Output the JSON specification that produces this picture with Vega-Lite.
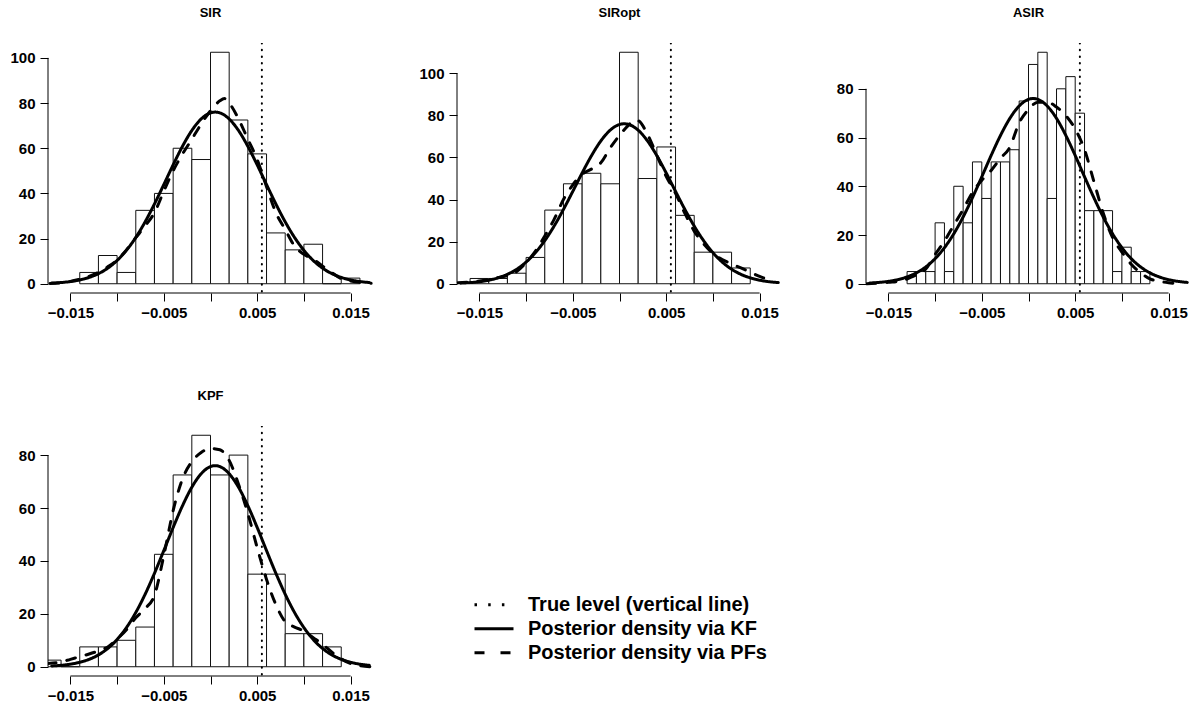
{
  "$schema": "https://vega.github.io/schema/vega-lite/v6.json",
  "background": "white",
  "padding": {"left": 9, "top": 7, "right": 5, "bottom": 5},
  "config": {
    "font": "Liberation Sans",
    "view": {"stroke": null},
    "axis": {"domain": false, "grid": false, "tickColor": "black", "tickSize": 8, "tickWidth": 1, "labelFont": "Liberation Sans", "labelFontSize": 15, "labelFontWeight": "bold", "labelColor": "black", "title": null, "labelOverlap": false},
    "axisX": {"labelPadding": 4},
    "axisY": {"labelPadding": 5},
    "title": {"font": "Liberation Sans", "fontSize": 13, "fontWeight": "bold", "color": "black", "anchor": "middle", "baseline": "alphabetic", "offset": 23}
  },
  "datasets": {
    "bars": [
      {"panel": "SIR", "x0": -0.014, "x1": -0.012, "density": 5},
      {"panel": "SIR", "x0": -0.012, "x1": -0.010, "density": 12.5},
      {"panel": "SIR", "x0": -0.010, "x1": -0.008, "density": 5},
      {"panel": "SIR", "x0": -0.008, "x1": -0.006, "density": 32.5},
      {"panel": "SIR", "x0": -0.006, "x1": -0.004, "density": 40},
      {"panel": "SIR", "x0": -0.004, "x1": -0.002, "density": 60},
      {"panel": "SIR", "x0": -0.002, "x1": 0.0, "density": 55},
      {"panel": "SIR", "x0": 0.0, "x1": 0.002, "density": 102.5},
      {"panel": "SIR", "x0": 0.002, "x1": 0.004, "density": 72.5},
      {"panel": "SIR", "x0": 0.004, "x1": 0.006, "density": 57.5},
      {"panel": "SIR", "x0": 0.006, "x1": 0.008, "density": 22.5},
      {"panel": "SIR", "x0": 0.008, "x1": 0.010, "density": 15},
      {"panel": "SIR", "x0": 0.010, "x1": 0.012, "density": 17.5},
      {"panel": "SIR", "x0": 0.012, "x1": 0.014, "density": 0},
      {"panel": "SIR", "x0": 0.014, "x1": 0.016, "density": 2.5},

      {"panel": "SIRopt", "x0": -0.016, "x1": -0.014, "density": 2.5},
      {"panel": "SIRopt", "x0": -0.014, "x1": -0.012, "density": 2.5},
      {"panel": "SIRopt", "x0": -0.012, "x1": -0.010, "density": 5},
      {"panel": "SIRopt", "x0": -0.010, "x1": -0.008, "density": 12.5},
      {"panel": "SIRopt", "x0": -0.008, "x1": -0.006, "density": 35},
      {"panel": "SIRopt", "x0": -0.006, "x1": -0.004, "density": 47.5},
      {"panel": "SIRopt", "x0": -0.004, "x1": -0.002, "density": 52.5},
      {"panel": "SIRopt", "x0": -0.002, "x1": 0.0, "density": 47.5},
      {"panel": "SIRopt", "x0": 0.0, "x1": 0.002, "density": 110},
      {"panel": "SIRopt", "x0": 0.002, "x1": 0.004, "density": 50},
      {"panel": "SIRopt", "x0": 0.004, "x1": 0.006, "density": 65},
      {"panel": "SIRopt", "x0": 0.006, "x1": 0.008, "density": 32.5},
      {"panel": "SIRopt", "x0": 0.008, "x1": 0.010, "density": 15},
      {"panel": "SIRopt", "x0": 0.010, "x1": 0.012, "density": 15},
      {"panel": "SIRopt", "x0": 0.012, "x1": 0.014, "density": 7.5},

      {"panel": "ASIR", "x0": -0.013, "x1": -0.012, "density": 5},
      {"panel": "ASIR", "x0": -0.012, "x1": -0.011, "density": 5},
      {"panel": "ASIR", "x0": -0.011, "x1": -0.010, "density": 5},
      {"panel": "ASIR", "x0": -0.010, "x1": -0.009, "density": 25},
      {"panel": "ASIR", "x0": -0.009, "x1": -0.008, "density": 5},
      {"panel": "ASIR", "x0": -0.008, "x1": -0.007, "density": 40},
      {"panel": "ASIR", "x0": -0.007, "x1": -0.006, "density": 25},
      {"panel": "ASIR", "x0": -0.006, "x1": -0.005, "density": 50},
      {"panel": "ASIR", "x0": -0.005, "x1": -0.004, "density": 35},
      {"panel": "ASIR", "x0": -0.004, "x1": -0.003, "density": 50},
      {"panel": "ASIR", "x0": -0.003, "x1": -0.002, "density": 50},
      {"panel": "ASIR", "x0": -0.002, "x1": -0.001, "density": 55},
      {"panel": "ASIR", "x0": -0.001, "x1": 0.0, "density": 75},
      {"panel": "ASIR", "x0": 0.0, "x1": 0.001, "density": 90},
      {"panel": "ASIR", "x0": 0.001, "x1": 0.002, "density": 95},
      {"panel": "ASIR", "x0": 0.002, "x1": 0.003, "density": 35},
      {"panel": "ASIR", "x0": 0.003, "x1": 0.004, "density": 80},
      {"panel": "ASIR", "x0": 0.004, "x1": 0.005, "density": 85},
      {"panel": "ASIR", "x0": 0.005, "x1": 0.006, "density": 70},
      {"panel": "ASIR", "x0": 0.006, "x1": 0.007, "density": 30},
      {"panel": "ASIR", "x0": 0.007, "x1": 0.008, "density": 30},
      {"panel": "ASIR", "x0": 0.008, "x1": 0.009, "density": 30},
      {"panel": "ASIR", "x0": 0.009, "x1": 0.010, "density": 5},
      {"panel": "ASIR", "x0": 0.010, "x1": 0.011, "density": 15},
      {"panel": "ASIR", "x0": 0.011, "x1": 0.012, "density": 5},
      {"panel": "ASIR", "x0": 0.012, "x1": 0.013, "density": 5},

      {"panel": "KPF", "x0": -0.018, "x1": -0.016, "density": 2.5},
      {"panel": "KPF", "x0": -0.016, "x1": -0.014, "density": 0},
      {"panel": "KPF", "x0": -0.014, "x1": -0.012, "density": 7.5},
      {"panel": "KPF", "x0": -0.012, "x1": -0.010, "density": 7.5},
      {"panel": "KPF", "x0": -0.010, "x1": -0.008, "density": 10},
      {"panel": "KPF", "x0": -0.008, "x1": -0.006, "density": 15},
      {"panel": "KPF", "x0": -0.006, "x1": -0.004, "density": 42.5},
      {"panel": "KPF", "x0": -0.004, "x1": -0.002, "density": 72.5},
      {"panel": "KPF", "x0": -0.002, "x1": 0.0, "density": 87.5},
      {"panel": "KPF", "x0": 0.0, "x1": 0.002, "density": 72.5},
      {"panel": "KPF", "x0": 0.002, "x1": 0.004, "density": 80},
      {"panel": "KPF", "x0": 0.004, "x1": 0.006, "density": 35},
      {"panel": "KPF", "x0": 0.006, "x1": 0.008, "density": 35},
      {"panel": "KPF", "x0": 0.008, "x1": 0.010, "density": 12.5},
      {"panel": "KPF", "x0": 0.010, "x1": 0.012, "density": 12.5},
      {"panel": "KPF", "x0": 0.012, "x1": 0.014, "density": 7.5}
    ],
    "kf": [
      {"series": "Posterior density via KF", "x": -0.017, "y": 0.29},
      {"series": "Posterior density via KF", "x": -0.016, "y": 0.54},
      {"series": "Posterior density via KF", "x": -0.015, "y": 0.97},
      {"series": "Posterior density via KF", "x": -0.014, "y": 1.68},
      {"series": "Posterior density via KF", "x": -0.013, "y": 2.79},
      {"series": "Posterior density via KF", "x": -0.012, "y": 4.47},
      {"series": "Posterior density via KF", "x": -0.011, "y": 6.9},
      {"series": "Posterior density via KF", "x": -0.010, "y": 10.29},
      {"series": "Posterior density via KF", "x": -0.009, "y": 14.79},
      {"series": "Posterior density via KF", "x": -0.008, "y": 20.49},
      {"series": "Posterior density via KF", "x": -0.007, "y": 27.4},
      {"series": "Posterior density via KF", "x": -0.006, "y": 35.32},
      {"series": "Posterior density via KF", "x": -0.005, "y": 43.9},
      {"series": "Posterior density via KF", "x": -0.004, "y": 52.64},
      {"series": "Posterior density via KF", "x": -0.003, "y": 60.85},
      {"series": "Posterior density via KF", "x": -0.002, "y": 67.85},
      {"series": "Posterior density via KF", "x": -0.001, "y": 72.96},
      {"series": "Posterior density via KF", "x": 0.0, "y": 75.66},
      {"series": "Posterior density via KF", "x": 0.0005, "y": 76},
      {"series": "Posterior density via KF", "x": 0.001, "y": 75.66},
      {"series": "Posterior density via KF", "x": 0.002, "y": 72.96},
      {"series": "Posterior density via KF", "x": 0.003, "y": 67.85},
      {"series": "Posterior density via KF", "x": 0.004, "y": 60.85},
      {"series": "Posterior density via KF", "x": 0.005, "y": 52.64},
      {"series": "Posterior density via KF", "x": 0.006, "y": 43.9},
      {"series": "Posterior density via KF", "x": 0.007, "y": 35.32},
      {"series": "Posterior density via KF", "x": 0.008, "y": 27.4},
      {"series": "Posterior density via KF", "x": 0.009, "y": 20.49},
      {"series": "Posterior density via KF", "x": 0.010, "y": 14.79},
      {"series": "Posterior density via KF", "x": 0.011, "y": 10.29},
      {"series": "Posterior density via KF", "x": 0.012, "y": 6.9},
      {"series": "Posterior density via KF", "x": 0.013, "y": 4.47},
      {"series": "Posterior density via KF", "x": 0.014, "y": 2.79},
      {"series": "Posterior density via KF", "x": 0.015, "y": 1.68},
      {"series": "Posterior density via KF", "x": 0.016, "y": 0.97},
      {"series": "Posterior density via KF", "x": 0.017, "y": 0.54}
    ],
    "pf": [
      {"panel": "SIR", "series": "Posterior density via PFs", "x": -0.0172, "y": 0.1},
      {"panel": "SIR", "series": "Posterior density via PFs", "x": -0.016, "y": 0.4},
      {"panel": "SIR", "series": "Posterior density via PFs", "x": -0.015, "y": 1},
      {"panel": "SIR", "series": "Posterior density via PFs", "x": -0.014, "y": 2},
      {"panel": "SIR", "series": "Posterior density via PFs", "x": -0.013, "y": 3.3},
      {"panel": "SIR", "series": "Posterior density via PFs", "x": -0.012, "y": 5},
      {"panel": "SIR", "series": "Posterior density via PFs", "x": -0.011, "y": 7.5},
      {"panel": "SIR", "series": "Posterior density via PFs", "x": -0.010, "y": 10.5},
      {"panel": "SIR", "series": "Posterior density via PFs", "x": -0.009, "y": 15},
      {"panel": "SIR", "series": "Posterior density via PFs", "x": -0.008, "y": 20.4},
      {"panel": "SIR", "series": "Posterior density via PFs", "x": -0.007, "y": 25.6},
      {"panel": "SIR", "series": "Posterior density via PFs", "x": -0.006, "y": 31.5},
      {"panel": "SIR", "series": "Posterior density via PFs", "x": -0.005, "y": 41},
      {"panel": "SIR", "series": "Posterior density via PFs", "x": -0.004, "y": 50},
      {"panel": "SIR", "series": "Posterior density via PFs", "x": -0.003, "y": 57.4},
      {"panel": "SIR", "series": "Posterior density via PFs", "x": -0.002, "y": 64},
      {"panel": "SIR", "series": "Posterior density via PFs", "x": -0.001, "y": 70.7},
      {"panel": "SIR", "series": "Posterior density via PFs", "x": 0.0, "y": 76.6},
      {"panel": "SIR", "series": "Posterior density via PFs", "x": 0.001, "y": 81},
      {"panel": "SIR", "series": "Posterior density via PFs", "x": 0.0015, "y": 82},
      {"panel": "SIR", "series": "Posterior density via PFs", "x": 0.002, "y": 80},
      {"panel": "SIR", "series": "Posterior density via PFs", "x": 0.003, "y": 73},
      {"panel": "SIR", "series": "Posterior density via PFs", "x": 0.004, "y": 64},
      {"panel": "SIR", "series": "Posterior density via PFs", "x": 0.005, "y": 55},
      {"panel": "SIR", "series": "Posterior density via PFs", "x": 0.006, "y": 43},
      {"panel": "SIR", "series": "Posterior density via PFs", "x": 0.007, "y": 31.5},
      {"panel": "SIR", "series": "Posterior density via PFs", "x": 0.008, "y": 24},
      {"panel": "SIR", "series": "Posterior density via PFs", "x": 0.009, "y": 16.7},
      {"panel": "SIR", "series": "Posterior density via PFs", "x": 0.010, "y": 13},
      {"panel": "SIR", "series": "Posterior density via PFs", "x": 0.011, "y": 10.8},
      {"panel": "SIR", "series": "Posterior density via PFs", "x": 0.012, "y": 7.8},
      {"panel": "SIR", "series": "Posterior density via PFs", "x": 0.013, "y": 4.9},
      {"panel": "SIR", "series": "Posterior density via PFs", "x": 0.014, "y": 2.2},
      {"panel": "SIR", "series": "Posterior density via PFs", "x": 0.015, "y": 1.2},
      {"panel": "SIR", "series": "Posterior density via PFs", "x": 0.016, "y": 0.6},
      {"panel": "SIR", "series": "Posterior density via PFs", "x": 0.0172, "y": 0.2},

      {"panel": "SIRopt", "series": "Posterior density via PFs", "x": -0.0173, "y": 0.5},
      {"panel": "SIRopt", "series": "Posterior density via PFs", "x": -0.015, "y": 1.3},
      {"panel": "SIRopt", "series": "Posterior density via PFs", "x": -0.013, "y": 2.9},
      {"panel": "SIRopt", "series": "Posterior density via PFs", "x": -0.0112, "y": 5.2},
      {"panel": "SIRopt", "series": "Posterior density via PFs", "x": -0.010, "y": 10},
      {"panel": "SIRopt", "series": "Posterior density via PFs", "x": -0.009, "y": 15.5},
      {"panel": "SIRopt", "series": "Posterior density via PFs", "x": -0.008, "y": 22.7},
      {"panel": "SIRopt", "series": "Posterior density via PFs", "x": -0.007, "y": 30.6},
      {"panel": "SIRopt", "series": "Posterior density via PFs", "x": -0.006, "y": 40},
      {"panel": "SIRopt", "series": "Posterior density via PFs", "x": -0.005, "y": 47},
      {"panel": "SIRopt", "series": "Posterior density via PFs", "x": -0.004, "y": 52},
      {"panel": "SIRopt", "series": "Posterior density via PFs", "x": -0.003, "y": 54.5},
      {"panel": "SIRopt", "series": "Posterior density via PFs", "x": -0.002, "y": 57.5},
      {"panel": "SIRopt", "series": "Posterior density via PFs", "x": -0.001, "y": 64.5},
      {"panel": "SIRopt", "series": "Posterior density via PFs", "x": 0.0, "y": 70.5},
      {"panel": "SIRopt", "series": "Posterior density via PFs", "x": 0.001, "y": 75.5},
      {"panel": "SIRopt", "series": "Posterior density via PFs", "x": 0.0016, "y": 77.8},
      {"panel": "SIRopt", "series": "Posterior density via PFs", "x": 0.002, "y": 77.5},
      {"panel": "SIRopt", "series": "Posterior density via PFs", "x": 0.003, "y": 71},
      {"panel": "SIRopt", "series": "Posterior density via PFs", "x": 0.004, "y": 61},
      {"panel": "SIRopt", "series": "Posterior density via PFs", "x": 0.005, "y": 51},
      {"panel": "SIRopt", "series": "Posterior density via PFs", "x": 0.006, "y": 43},
      {"panel": "SIRopt", "series": "Posterior density via PFs", "x": 0.007, "y": 33.5},
      {"panel": "SIRopt", "series": "Posterior density via PFs", "x": 0.008, "y": 25},
      {"panel": "SIRopt", "series": "Posterior density via PFs", "x": 0.009, "y": 19},
      {"panel": "SIRopt", "series": "Posterior density via PFs", "x": 0.010, "y": 14.5},
      {"panel": "SIRopt", "series": "Posterior density via PFs", "x": 0.011, "y": 11.5},
      {"panel": "SIRopt", "series": "Posterior density via PFs", "x": 0.012, "y": 9.5},
      {"panel": "SIRopt", "series": "Posterior density via PFs", "x": 0.013, "y": 7.5},
      {"panel": "SIRopt", "series": "Posterior density via PFs", "x": 0.014, "y": 5.5},
      {"panel": "SIRopt", "series": "Posterior density via PFs", "x": 0.015, "y": 3.5},
      {"panel": "SIRopt", "series": "Posterior density via PFs", "x": 0.0159, "y": 2},

      {"panel": "ASIR", "series": "Posterior density via PFs", "x": -0.0173, "y": 0},
      {"panel": "ASIR", "series": "Posterior density via PFs", "x": -0.015, "y": 0.6},
      {"panel": "ASIR", "series": "Posterior density via PFs", "x": -0.0135, "y": 1.3},
      {"panel": "ASIR", "series": "Posterior density via PFs", "x": -0.0125, "y": 2.8},
      {"panel": "ASIR", "series": "Posterior density via PFs", "x": -0.011, "y": 6},
      {"panel": "ASIR", "series": "Posterior density via PFs", "x": -0.010, "y": 12},
      {"panel": "ASIR", "series": "Posterior density via PFs", "x": -0.009, "y": 17.5},
      {"panel": "ASIR", "series": "Posterior density via PFs", "x": -0.008, "y": 24},
      {"panel": "ASIR", "series": "Posterior density via PFs", "x": -0.007, "y": 30.5},
      {"panel": "ASIR", "series": "Posterior density via PFs", "x": -0.006, "y": 37.5},
      {"panel": "ASIR", "series": "Posterior density via PFs", "x": -0.005, "y": 42.5},
      {"panel": "ASIR", "series": "Posterior density via PFs", "x": -0.004, "y": 46.5},
      {"panel": "ASIR", "series": "Posterior density via PFs", "x": -0.003, "y": 51.5},
      {"panel": "ASIR", "series": "Posterior density via PFs", "x": -0.002, "y": 56},
      {"panel": "ASIR", "series": "Posterior density via PFs", "x": -0.001, "y": 66},
      {"panel": "ASIR", "series": "Posterior density via PFs", "x": 0.0, "y": 71.5},
      {"panel": "ASIR", "series": "Posterior density via PFs", "x": 0.001, "y": 74.5},
      {"panel": "ASIR", "series": "Posterior density via PFs", "x": 0.002, "y": 74.5},
      {"panel": "ASIR", "series": "Posterior density via PFs", "x": 0.003, "y": 72.5},
      {"panel": "ASIR", "series": "Posterior density via PFs", "x": 0.004, "y": 69},
      {"panel": "ASIR", "series": "Posterior density via PFs", "x": 0.005, "y": 63.5},
      {"panel": "ASIR", "series": "Posterior density via PFs", "x": 0.006, "y": 55},
      {"panel": "ASIR", "series": "Posterior density via PFs", "x": 0.007, "y": 42},
      {"panel": "ASIR", "series": "Posterior density via PFs", "x": 0.008, "y": 29},
      {"panel": "ASIR", "series": "Posterior density via PFs", "x": 0.009, "y": 19},
      {"panel": "ASIR", "series": "Posterior density via PFs", "x": 0.010, "y": 13},
      {"panel": "ASIR", "series": "Posterior density via PFs", "x": 0.011, "y": 8},
      {"panel": "ASIR", "series": "Posterior density via PFs", "x": 0.012, "y": 4.5},
      {"panel": "ASIR", "series": "Posterior density via PFs", "x": 0.013, "y": 2},
      {"panel": "ASIR", "series": "Posterior density via PFs", "x": 0.014, "y": 1},
      {"panel": "ASIR", "series": "Posterior density via PFs", "x": 0.015, "y": 0.4},
      {"panel": "ASIR", "series": "Posterior density via PFs", "x": 0.0166, "y": 0},

      {"panel": "KPF", "series": "Posterior density via PFs", "x": -0.0175, "y": 1.2},
      {"panel": "KPF", "series": "Posterior density via PFs", "x": -0.016, "y": 1.8},
      {"panel": "KPF", "series": "Posterior density via PFs", "x": -0.015, "y": 2.8},
      {"panel": "KPF", "series": "Posterior density via PFs", "x": -0.014, "y": 3.8},
      {"panel": "KPF", "series": "Posterior density via PFs", "x": -0.013, "y": 4.8},
      {"panel": "KPF", "series": "Posterior density via PFs", "x": -0.012, "y": 6},
      {"panel": "KPF", "series": "Posterior density via PFs", "x": -0.011, "y": 7.5},
      {"panel": "KPF", "series": "Posterior density via PFs", "x": -0.010, "y": 10.5},
      {"panel": "KPF", "series": "Posterior density via PFs", "x": -0.009, "y": 14},
      {"panel": "KPF", "series": "Posterior density via PFs", "x": -0.008, "y": 18.5},
      {"panel": "KPF", "series": "Posterior density via PFs", "x": -0.007, "y": 22},
      {"panel": "KPF", "series": "Posterior density via PFs", "x": -0.006, "y": 27},
      {"panel": "KPF", "series": "Posterior density via PFs", "x": -0.005, "y": 42},
      {"panel": "KPF", "series": "Posterior density via PFs", "x": -0.004, "y": 59},
      {"panel": "KPF", "series": "Posterior density via PFs", "x": -0.003, "y": 71},
      {"panel": "KPF", "series": "Posterior density via PFs", "x": -0.002, "y": 77.5},
      {"panel": "KPF", "series": "Posterior density via PFs", "x": -0.001, "y": 81},
      {"panel": "KPF", "series": "Posterior density via PFs", "x": 0.0, "y": 82.5},
      {"panel": "KPF", "series": "Posterior density via PFs", "x": 0.001, "y": 82},
      {"panel": "KPF", "series": "Posterior density via PFs", "x": 0.002, "y": 78},
      {"panel": "KPF", "series": "Posterior density via PFs", "x": 0.003, "y": 69},
      {"panel": "KPF", "series": "Posterior density via PFs", "x": 0.004, "y": 58},
      {"panel": "KPF", "series": "Posterior density via PFs", "x": 0.005, "y": 45},
      {"panel": "KPF", "series": "Posterior density via PFs", "x": 0.006, "y": 33},
      {"panel": "KPF", "series": "Posterior density via PFs", "x": 0.007, "y": 23.5},
      {"panel": "KPF", "series": "Posterior density via PFs", "x": 0.008, "y": 17},
      {"panel": "KPF", "series": "Posterior density via PFs", "x": 0.009, "y": 15},
      {"panel": "KPF", "series": "Posterior density via PFs", "x": 0.010, "y": 13.5},
      {"panel": "KPF", "series": "Posterior density via PFs", "x": 0.011, "y": 11},
      {"panel": "KPF", "series": "Posterior density via PFs", "x": 0.012, "y": 8.5},
      {"panel": "KPF", "series": "Posterior density via PFs", "x": 0.013, "y": 5.5},
      {"panel": "KPF", "series": "Posterior density via PFs", "x": 0.014, "y": 3},
      {"panel": "KPF", "series": "Posterior density via PFs", "x": 0.015, "y": 1.2},
      {"panel": "KPF", "series": "Posterior density via PFs", "x": 0.016, "y": 0.4},
      {"panel": "KPF", "series": "Posterior density via PFs", "x": 0.0172, "y": 0}
    ],
    "truth": [
      {"series": "True level (vertical line)", "x": 0.0055}
    ]
  },
  "columns": 3,
  "bounds": "flush",
  "spacing": {"row": 133, "column": 84},
  "resolve": {"scale": {"x": "independent", "y": "independent", "strokeDash": "independent"}, "legend": {"strokeDash": "independent"}},
  "concat": [
    {
      "width": 325, "height": 250, "title": "SIR",
      "layer": [
        {"data": {"name": "bars"}, "transform": [{"filter": "datum.panel == 'SIR'"}],
         "mark": {"type": "rect", "fill": "white", "stroke": "#111111", "strokeWidth": 1, "clip": true},
         "encoding": {
           "x": {"field": "x0", "type": "quantitative", "scale": {"domain": [-0.0174, 0.0174], "nice": false, "zero": false}, "axis": {"values": [-0.015, -0.01, -0.005, 0, 0.005, 0.01, 0.015], "format": ".3f", "labelExpr": "round(datum.value*1000) % 10 != 0 ? datum.label : ''"}},
           "x2": {"field": "x1"},
           "y": {"field": "density", "type": "quantitative", "scale": {"domain": [-4.1, 106.6], "nice": false, "zero": false}, "axis": {"values": [0, 20, 40, 60, 80, 100], "format": "d"}},
           "y2": {"datum": 0}}},
        {"data": {"name": "kf"},
         "mark": {"type": "line", "clip": true, "color": "black", "strokeWidth": 3, "interpolate": "monotone", "strokeCap": "round"},
         "encoding": {"x": {"field": "x", "type": "quantitative"}, "y": {"field": "y", "type": "quantitative"},
           "strokeDash": {"field": "series", "type": "nominal", "scale": {"domain": ["True level (vertical line)", "Posterior density via KF", "Posterior density via PFs"], "range": [[0.5, 6.2], [1, 0], [9, 11]]}, "legend": null}}},
        {"data": {"name": "pf"}, "transform": [{"filter": "datum.panel == 'SIR'"}],
         "mark": {"type": "line", "clip": true, "color": "black", "strokeWidth": 3, "interpolate": "monotone", "strokeCap": "round"},
         "encoding": {"x": {"field": "x", "type": "quantitative"}, "y": {"field": "y", "type": "quantitative"},
           "strokeDash": {"field": "series", "type": "nominal", "legend": null}}},
        {"data": {"name": "truth"},
         "mark": {"type": "rule", "clip": true, "color": "black", "strokeWidth": 2, "strokeCap": "round"},
         "encoding": {"x": {"field": "x", "type": "quantitative"},
           "strokeDash": {"field": "series", "type": "nominal", "legend": null}}},
        {"data": {"values": [{}]}, "mark": {"type": "rule", "color": "black", "strokeWidth": 1},
         "encoding": {"x": {"datum": -0.015}, "x2": {"datum": 0.015}, "y": {"datum": -4.1}}},
        {"data": {"values": [{}]}, "mark": {"type": "rule", "color": "black", "strokeWidth": 1},
         "encoding": {"x": {"datum": -0.0174}, "y": {"datum": 0}, "y2": {"datum": 100}}}
      ]
    },
    {
      "width": 325, "height": 250, "title": "SIRopt",
      "layer": [
        {"data": {"name": "bars"}, "transform": [{"filter": "datum.panel == 'SIRopt'"}],
         "mark": {"type": "rect", "fill": "white", "stroke": "#111111", "strokeWidth": 1, "clip": true},
         "encoding": {
           "x": {"field": "x0", "type": "quantitative", "scale": {"domain": [-0.0174, 0.0174], "nice": false, "zero": false}, "axis": {"values": [-0.015, -0.01, -0.005, 0, 0.005, 0.01, 0.015], "format": ".3f", "labelExpr": "round(datum.value*1000) % 10 != 0 ? datum.label : ''"}},
           "x2": {"field": "x1"},
           "y": {"field": "density", "type": "quantitative", "scale": {"domain": [-4.4, 114.4], "nice": false, "zero": false}, "axis": {"values": [0, 20, 40, 60, 80, 100], "format": "d"}},
           "y2": {"datum": 0}}},
        {"data": {"name": "kf"},
         "mark": {"type": "line", "clip": true, "color": "black", "strokeWidth": 3, "interpolate": "monotone", "strokeCap": "round"},
         "encoding": {"x": {"field": "x", "type": "quantitative"}, "y": {"field": "y", "type": "quantitative"},
           "strokeDash": {"field": "series", "type": "nominal", "scale": {"domain": ["True level (vertical line)", "Posterior density via KF", "Posterior density via PFs"], "range": [[0.5, 6.2], [1, 0], [9, 11]]}, "legend": null}}},
        {"data": {"name": "pf"}, "transform": [{"filter": "datum.panel == 'SIRopt'"}],
         "mark": {"type": "line", "clip": true, "color": "black", "strokeWidth": 3, "interpolate": "monotone", "strokeCap": "round"},
         "encoding": {"x": {"field": "x", "type": "quantitative"}, "y": {"field": "y", "type": "quantitative"},
           "strokeDash": {"field": "series", "type": "nominal", "legend": null}}},
        {"data": {"name": "truth"},
         "mark": {"type": "rule", "clip": true, "color": "black", "strokeWidth": 2, "strokeCap": "round"},
         "encoding": {"x": {"field": "x", "type": "quantitative"},
           "strokeDash": {"field": "series", "type": "nominal", "legend": null}}},
        {"data": {"values": [{}]}, "mark": {"type": "rule", "color": "black", "strokeWidth": 1},
         "encoding": {"x": {"datum": -0.015}, "x2": {"datum": 0.015}, "y": {"datum": -4.4}}},
        {"data": {"values": [{}]}, "mark": {"type": "rule", "color": "black", "strokeWidth": 1},
         "encoding": {"x": {"datum": -0.0174}, "y": {"datum": 0}, "y2": {"datum": 100}}}
      ]
    },
    {
      "width": 325, "height": 250, "title": "ASIR",
      "layer": [
        {"data": {"name": "bars"}, "transform": [{"filter": "datum.panel == 'ASIR'"}],
         "mark": {"type": "rect", "fill": "white", "stroke": "#111111", "strokeWidth": 1, "clip": true},
         "encoding": {
           "x": {"field": "x0", "type": "quantitative", "scale": {"domain": [-0.0174, 0.0174], "nice": false, "zero": false}, "axis": {"values": [-0.015, -0.01, -0.005, 0, 0.005, 0.01, 0.015], "format": ".3f", "labelExpr": "round(datum.value*1000) % 10 != 0 ? datum.label : ''"}},
           "x2": {"field": "x1"},
           "y": {"field": "density", "type": "quantitative", "scale": {"domain": [-3.8, 98.8], "nice": false, "zero": false}, "axis": {"values": [0, 20, 40, 60, 80], "format": "d"}},
           "y2": {"datum": 0}}},
        {"data": {"name": "kf"},
         "mark": {"type": "line", "clip": true, "color": "black", "strokeWidth": 3, "interpolate": "monotone", "strokeCap": "round"},
         "encoding": {"x": {"field": "x", "type": "quantitative"}, "y": {"field": "y", "type": "quantitative"},
           "strokeDash": {"field": "series", "type": "nominal", "scale": {"domain": ["True level (vertical line)", "Posterior density via KF", "Posterior density via PFs"], "range": [[0.5, 6.2], [1, 0], [9, 11]]}, "legend": null}}},
        {"data": {"name": "pf"}, "transform": [{"filter": "datum.panel == 'ASIR'"}],
         "mark": {"type": "line", "clip": true, "color": "black", "strokeWidth": 3, "interpolate": "monotone", "strokeCap": "round"},
         "encoding": {"x": {"field": "x", "type": "quantitative"}, "y": {"field": "y", "type": "quantitative"},
           "strokeDash": {"field": "series", "type": "nominal", "legend": null}}},
        {"data": {"name": "truth"},
         "mark": {"type": "rule", "clip": true, "color": "black", "strokeWidth": 2, "strokeCap": "round"},
         "encoding": {"x": {"field": "x", "type": "quantitative"},
           "strokeDash": {"field": "series", "type": "nominal", "legend": null}}},
        {"data": {"values": [{}]}, "mark": {"type": "rule", "color": "black", "strokeWidth": 1},
         "encoding": {"x": {"datum": -0.015}, "x2": {"datum": 0.015}, "y": {"datum": -3.8}}},
        {"data": {"values": [{}]}, "mark": {"type": "rule", "color": "black", "strokeWidth": 1},
         "encoding": {"x": {"datum": -0.0174}, "y": {"datum": 0}, "y2": {"datum": 80}}}
      ]
    },
    {
      "width": 325, "height": 250, "title": "KPF",
      "resolve": {"scale": {"strokeDash": "independent"}, "legend": {"strokeDash": "independent"}},
      "layer": [
        {"data": {"name": "bars"}, "transform": [{"filter": "datum.panel == 'KPF'"}],
         "mark": {"type": "rect", "fill": "white", "stroke": "#111111", "strokeWidth": 1, "clip": true},
         "encoding": {
           "x": {"field": "x0", "type": "quantitative", "scale": {"domain": [-0.0174, 0.0174], "nice": false, "zero": false}, "axis": {"values": [-0.015, -0.01, -0.005, 0, 0.005, 0.01, 0.015], "format": ".3f", "labelExpr": "round(datum.value*1000) % 10 != 0 ? datum.label : ''"}},
           "x2": {"field": "x1"},
           "y": {"field": "density", "type": "quantitative", "scale": {"domain": [-3.5, 91], "nice": false, "zero": false}, "axis": {"values": [0, 20, 40, 60, 80], "format": "d"}},
           "y2": {"datum": 0}}},
        {"data": {"name": "kf"},
         "mark": {"type": "line", "clip": true, "color": "black", "strokeWidth": 3, "interpolate": "monotone", "strokeCap": "round"},
         "encoding": {"x": {"field": "x", "type": "quantitative"}, "y": {"field": "y", "type": "quantitative"},
           "strokeDash": {"field": "series", "type": "nominal", "scale": {"domain": ["True level (vertical line)", "Posterior density via KF", "Posterior density via PFs"], "range": [[0.5, 6.2], [1, 0], [9, 11]]}, "legend": null}}},
        {"data": {"name": "pf"}, "transform": [{"filter": "datum.panel == 'KPF'"}],
         "mark": {"type": "line", "clip": true, "color": "black", "strokeWidth": 3, "interpolate": "monotone", "strokeCap": "round"},
         "encoding": {"x": {"field": "x", "type": "quantitative"}, "y": {"field": "y", "type": "quantitative"},
           "strokeDash": {"field": "series", "type": "nominal", "scale": {"domain": ["True level (vertical line)", "Posterior density via KF", "Posterior density via PFs"], "range": [[0.5, 6.2], [1, 0], [9, 11]]}, "legend": null}}},
        {"data": {"name": "truth"},
         "mark": {"type": "rule", "clip": true, "color": "black", "strokeWidth": 2, "strokeCap": "round"},
         "encoding": {"x": {"field": "x", "type": "quantitative"},
           "strokeDash": {"field": "series", "type": "nominal", "scale": {"domain": ["True level (vertical line)", "Posterior density via KF", "Posterior density via PFs"], "range": [[0.5, 6.2], [1, 0], [9, 11]]}, "legend": null}}},
        {"data": {"name": "truth"},
         "mark": {"type": "rule", "clip": true, "color": "black", "strokeWidth": 3},
         "encoding": {"x": {"datum": 0.05},
           "strokeDash": {"field": "series", "type": "nominal", "scale": {"domain": ["True level (vertical line)", "Posterior density via KF", "Posterior density via PFs"], "range": [[2.5, 11.2], [1, 0], [10, 16]]},
             "legend": {"orient": "none", "legendX": 425, "legendY": 167, "title": null, "symbolType": "stroke", "symbolSize": 1521, "symbolStrokeWidth": 3, "symbolStrokeColor": "black", "labelFont": "Liberation Sans", "labelFontSize": 20, "labelFontWeight": "bold", "labelColor": "black", "labelOffset": 13, "labelLimit": 400, "clipHeight": 23.5, "rowPadding": 0}}}},
        {"data": {"values": [{}]}, "mark": {"type": "rule", "color": "black", "strokeWidth": 1},
         "encoding": {"x": {"datum": -0.015}, "x2": {"datum": 0.015}, "y": {"datum": -3.5}}},
        {"data": {"values": [{}]}, "mark": {"type": "rule", "color": "black", "strokeWidth": 1},
         "encoding": {"x": {"datum": -0.0174}, "y": {"datum": 0}, "y2": {"datum": 80}}}
      ]
    }
  ]
}
